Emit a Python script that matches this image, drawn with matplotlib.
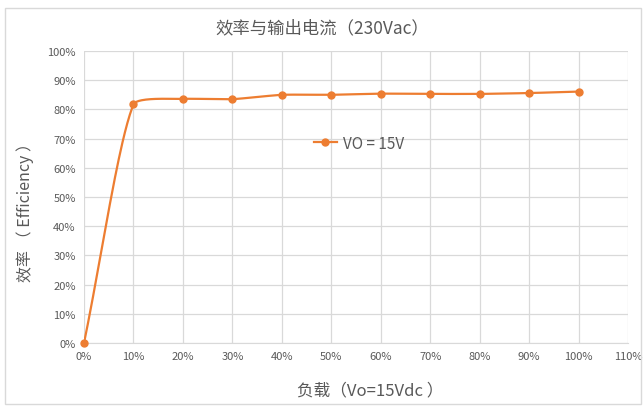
import numpy as np
import matplotlib
matplotlib.use('Agg')
import matplotlib.pyplot as plt
from matplotlib.patches import Rectangle
from matplotlib.ticker import PercentFormatter

plt.rcParams['font.family'] = ['Noto Sans CJK SC', 'DejaVu Sans']

# Load level (%) and efficiency (%)
load = [0, 10, 20, 30, 40, 50, 60, 70, 80, 90, 100]
efficiency = [0, 81.7, 83.6, 83.5, 85.0, 85.0, 85.4, 85.3, 85.3, 85.6, 86.1]
series_label = 'VO = 15V'
x_ticks = [0, 10, 20, 30, 40, 50, 60, 70, 80, 90, 100, 110]
y_ticks = list(range(0, 101, 10))

orange = '#ED7D31'
grey_text = '#595959'


def smooth_curve(ax, x, y, k=0.17, steps=40):
    # smoothed line done in screen space, roughly like Excel's
    pts = ax.transData.transform(np.column_stack([x, y]))
    n = len(pts)
    out = []
    t = np.linspace(0, 1, steps)[:, None]
    for i in range(n - 1):
        p0, p3 = pts[i], pts[i + 1]
        seg = np.linalg.norm(p3 - p0)
        d0 = pts[min(i + 1, n - 1)] - pts[max(i - 1, 0)]
        d1 = pts[min(i + 2, n - 1)] - pts[i]
        c1 = p0 + d0 / np.linalg.norm(d0) * seg * k * (2 if i == 0 else 1)
        c2 = p3 - d1 / np.linalg.norm(d1) * seg * k
        b = (1 - t) ** 3 * p0 + 3 * (1 - t) ** 2 * t * c1 + 3 * (1 - t) * t ** 2 * c2 + t ** 3 * p3
        out.append(b)
    out = ax.transData.inverted().transform(np.vstack(out))
    return out[:, 0], out[:, 1]


fig = plt.figure(figsize=(6.44, 4.10), dpi=100)
fig.patches.append(Rectangle((5 / 644, 5 / 410), 636 / 644, 396 / 410, transform=fig.transFigure,
                             fill=False, edgecolor='#d9d9d9', linewidth=1))
ax = fig.add_axes([84 / 644, 1 - 344 / 410, 544 / 644, 292 / 410])

ax.set_xlim(0, 110)
ax.set_ylim(0, 100)

sx, sy = smooth_curve(ax, load, efficiency)
ax.plot(sx, sy, color=orange, linewidth=1.6, zorder=3)
ax.plot(load, efficiency, 'o', color=orange, markersize=5, zorder=4, clip_on=False)
ax.plot([], [], '-o', color=orange, markersize=5, linewidth=1.6, label=series_label)

ax.set_xticks(x_ticks)
ax.set_yticks(y_ticks)
ax.xaxis.set_major_formatter(PercentFormatter(decimals=0))
ax.yaxis.set_major_formatter(PercentFormatter(decimals=0))
ax.grid(True, color='#d9d9d9', linewidth=0.9)
ax.set_axisbelow(True)
for s in ['top', 'right', 'left']:
    ax.spines[s].set_visible(False)
ax.spines['bottom'].set_color('#d9d9d9')
ax.tick_params(length=0, labelsize=8, colors=grey_text, pad=6)

fig.text(0.5, 1 - 28 / 410, '效率与输出电流（230Vac）', fontsize=12.5, color=grey_text,
         ha='center', va='center')
fig.text(370 / 644, 1 - 391 / 410, '负载（Vo=15Vdc ）', fontsize=12, color=grey_text,
         ha='center', va='center')
fig.text(25 / 644, 1 - 208 / 410, '效率 （ Efficiency ）', fontsize=11.5, color=grey_text,
         ha='center', va='center', rotation=90)

ax.legend(loc='upper left', bbox_to_anchor=(0.397, 0.76), frameon=False, fontsize=11,
          labelcolor=grey_text, handlelength=1.5, handletextpad=0.4)

fig.savefig('out.png', dpi=100)
